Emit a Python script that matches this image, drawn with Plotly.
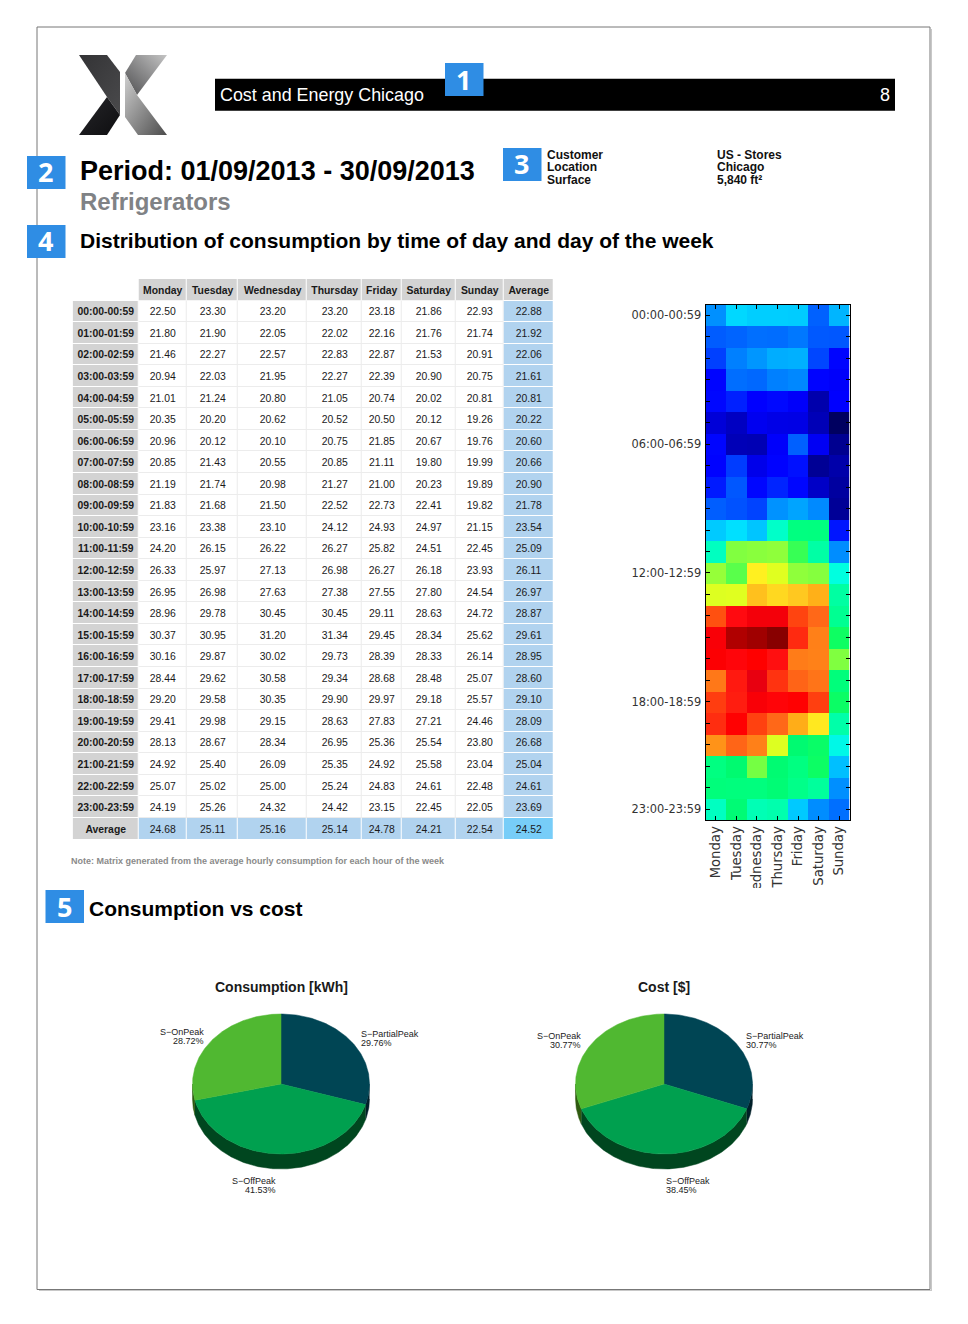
import base64
import numpy as np
import plotly.graph_objects as go

W, H = 968, 1324
BODY = 8  # the page body's margin: picture coordinates are measured from the window's corner

days = ["Monday", "Tuesday", "Wednesday", "Thursday", "Friday", "Saturday", "Sunday"]
hours = ["%02d:00-%02d:59" % (h, h) for h in range(24)]
monday = [22.50,21.80,21.46,20.94,21.01,20.35,20.96,20.85,21.19,21.83,23.16,24.20,26.33,26.95,28.96,30.37,30.16,28.44,29.20,29.41,28.13,24.92,25.07,24.19]
tuesday = [23.30,21.90,22.27,22.03,21.24,20.20,20.12,21.43,21.74,21.68,23.38,26.15,25.97,26.98,29.78,30.95,29.87,29.62,29.58,29.98,28.67,25.40,25.02,25.26]
wednesday = [23.20,22.05,22.57,21.95,20.80,20.62,20.10,20.55,20.98,21.50,23.10,26.22,27.13,27.63,30.45,31.20,30.02,30.58,30.35,29.15,28.34,26.09,25.00,24.32]
thursday = [23.20,22.02,22.83,22.27,21.05,20.52,20.75,20.85,21.27,22.52,24.12,26.27,26.98,27.38,30.45,31.34,29.73,29.34,29.90,28.63,26.95,25.35,25.24,24.42]
friday = [23.18,22.16,22.87,22.39,20.74,20.50,21.85,21.11,21.00,22.73,24.93,25.82,26.27,27.55,29.11,29.45,28.39,28.68,29.97,27.83,25.36,24.92,24.83,23.15]
saturday = [21.86,21.76,21.53,20.90,20.02,20.12,20.67,19.80,20.23,22.41,24.97,24.51,26.18,27.80,28.63,28.34,28.33,28.48,29.18,27.21,25.54,25.58,24.61,22.45]
sunday = [22.93,21.74,20.91,20.75,20.81,19.26,19.76,19.99,19.89,19.82,21.15,22.45,23.93,24.54,24.72,25.62,26.14,25.07,25.57,24.46,23.80,23.04,22.48,22.05]
row_average = [22.88,21.92,22.06,21.61,20.81,20.22,20.60,20.66,20.90,21.78,23.54,25.09,26.11,26.97,28.87,29.61,28.95,28.60,29.10,28.09,26.68,25.04,24.61,23.69]
column_average = [24.68,25.11,25.16,25.14,24.78,24.21,22.54,24.52]
heat_labels = {0: "00:00-00:59", 6: "06:00-06:59", 12: "12:00-12:59", 18: "18:00-18:59", 23: "23:00-23:59"}

pie_labels = ["S\u2212PartialPeak", "S\u2212OffPeak", "S\u2212OnPeak"]
consumption = [29.76, 41.53, 28.72]
cost = [30.77, 38.45, 30.77]

# colours of the heat matrix at given consumption levels
heat_levels = [19.26,19.76,19.89,20.10,20.35,20.62,20.80,21.05,21.24,21.46,21.85,22.27,22.50,22.87,23.18,23.38,23.93,24.20,24.93,25.40,25.65,26.14,26.98,27.13,27.55,27.80,28.34,28.63,28.96,29.45,29.80,30.00,30.40,30.58,30.95,31.20,31.34]
heat_colors = ["#000060","#000090","#0000a0","#0000b4","#0000d8","#0000f0","#0000ff","#0008ff","#0020ff","#0040ff","#0060ff","#0080ff","#0090ff","#00b0ff","#00ccff","#00e0ff","#00ffe0","#00ffc0","#00ff80","#00fa70","#10ff60","#80ff40","#e0ff20","#fff020","#ffc820","#ffb018","#ff8018","#ff6818","#ff5010","#ff2a10","#ff0810","#ff0000","#f80008","#e80010","#b00000","#a00000","#880000"]

BLUE = "#2f8de4"
PIE_TOP = ["#004554", "#00a04f", "#50b831"]
PIE_SIDE = ["#001f28", "#00461f", "#2f5a10"]

def px(x): return (x - BODY) / (W - 2 * BODY)
def py(y): return 1 - (y - BODY) / (H - 2 * BODY)

shapes, annotations = [], []

def rect(x0, y0, x1, y1, fill=None, line=None, lw=0, layer="below"):
    shapes.append(dict(type="rect", xref="paper", yref="paper", x0=px(x0), x1=px(x1), y0=py(y0), y1=py(y1),
                       fillcolor=fill, line=dict(color=line, width=lw), layer=layer))

def text(x, y, s, size, color="#000000", bold=False, anchor="left", family="Liberation Sans"):
    nudge = {"left": -1, "right": 1}.get(anchor, 0)
    annotations.append(dict(xref="paper", yref="paper", x=px(x + nudge), y=py(y), text=("<b>%s</b>" % s) if bold else s,
                            showarrow=False, xanchor=anchor, yanchor="middle", align=anchor,
                            font=dict(size=size, color=color, family=family), borderpad=0))

# page frame
rect(931, 29, 932, 1291, fill="#c8c8c8")
rect(39, 1290, 932, 1291, fill="#c8c8c8")
rect(37, 27, 930, 1289.5, fill="#ffffff", line="#777777", lw=1)

# header
rect(215, 78.7, 895, 110.7, fill="#000000")
text(220, 95.5, "Cost and Energy Chicago", 17.9, "#ffffff")
text(890, 95, "8", 18, "#ffffff", anchor="right")

# numbered badges
for n, x0, y0 in [(1, 445, 63), (2, 27, 156), (3, 503, 148), (4, 27, 225), (5, 45.5, 890)]:
    rect(x0, y0, x0 + 38.5, y0 + 33, fill=BLUE, layer="above")
    annotations.append(dict(xref="paper", yref="paper", x=px(x0 + 18.5), y=py(y0 + 16), text="<b>%d</b>" % n,
                            showarrow=False, xanchor="center", yanchor="middle",
                            font=dict(size=27, color="#ffffff", family="Open Sans")))

text(80, 171, "Period: 01/09/2013 - 30/09/2013", 27, bold=True)
text(80, 202, "Refrigerators", 24, "#808285", bold=True)
text(80, 241, "Distribution of consumption by time of day and day of the week", 21, bold=True)
for label, value, y in [("Customer", "US - Stores", 155), ("Location", "Chicago", 167.5), ("Surface", "5,840 ft\u00b2", 180)]:
    text(547, y, label, 12, "#111111", bold=True)
    text(717, y, value, 12, "#111111", bold=True)
text(71, 861, "Note: Matrix generated from the average hourly consumption for each hour of the week", 9, "#8a8a8a", bold=True)
text(89, 908, "Consumption vs cost", 21, bold=True)

# logo drawn as a small gradient image
svg = """<svg xmlns='http://www.w3.org/2000/svg' width='90' height='82' viewBox='0 0 90 82'>
<defs>
<linearGradient id='a' x1='0' y1='0' x2='1' y2='1'><stop offset='0' stop-color='#333335'/><stop offset='1' stop-color='#4a4a4c'/></linearGradient>
<linearGradient id='b' x1='0' y1='0' x2='1' y2='1'><stop offset='0' stop-color='#26262a'/><stop offset='1' stop-color='#0e0e10'/></linearGradient>
<linearGradient id='c' x1='1' y1='0' x2='0' y2='1'><stop offset='0' stop-color='#c4c4c4'/><stop offset='1' stop-color='#4e4e50'/></linearGradient>
<linearGradient id='d' x1='0' y1='0' x2='1' y2='1'><stop offset='0' stop-color='#d0d0d0'/><stop offset='1' stop-color='#4c4c4c'/></linearGradient>
</defs>
<polygon points='1,0 29,0 42,17 42,60 29,42' fill='url(#a)'/>
<polygon points='29,42 42,60 29,80 1,80' fill='url(#b)'/>
<polygon points='58,0 89,0 59,40 47,18' fill='url(#c)'/>
<polygon points='47,18 59,40 89,80 60,80 47,62' fill='url(#d)'/>
</svg>"""
logo = "data:image/svg+xml;base64," + base64.b64encode(svg.encode()).decode()
images = [dict(source=logo, xref="paper", yref="paper", x=px(78), y=py(55), sizex=90 / (W - 2 * BODY), sizey=82 / (H - 2 * BODY),
               xanchor="left", yanchor="top", sizing="stretch", layer="above")]

fig = go.Figure()

# table, drawn as a cell matrix so its row height can follow the reference
col_edges = [72.7, 138.7, 187, 238, 306.7, 362, 402, 456, 503.5, 553.7]
TABLE_TOP, TABLE_BOTTOM = 279, 839.5
row_h = (TABLE_BOTTOM - TABLE_TOP) / 26
rect(col_edges[1], TABLE_TOP + row_h, col_edges[8], TABLE_BOTTOM - row_h, fill="#ececec")
series = [monday, tuesday, wednesday, thursday, friday, saturday, sunday]
fmt = lambda seq: ["%.2f" % v for v in seq]
col_texts = [fmt(s) + fmt([column_average[i]]) for i, s in enumerate(series)] + [fmt(row_average) + fmt([column_average[7]])]
table_text = [[""] + ["<b>%s</b>" % d for d in days] + ["<b>Average</b>"]]
role = [[0] + [1] * 8]
for r in range(25):
    head = "<b>%s</b>" % (hours[r] if r < 24 else "Average")
    table_text.append([head] + [c[r] for c in col_texts])
    if r < 24:
        role.append([1] + [2] * 7 + [3])
    else:
        role.append([1] + [3] * 7 + [4])
role_fill = ["#ffffff", "#d3d3d3", "#ffffff", "#b1d3ef", "#77cdf8"]
role_scale = []
for i, c in enumerate(role_fill):
    role_scale += [[i / 5, c], [(i + 1) / 5, c]]
fig.add_trace(go.Heatmap(z=role, x=col_edges, y=list(range(26)), text=table_text, texttemplate="%{text}",
                         textfont=dict(size=10.4, color="#1a1a1a", family="Liberation Sans"),
                         xaxis="x4", yaxis="y4", zmin=0, zmax=5, colorscale=role_scale, showscale=False,
                         xgap=1, ygap=1, hoverinfo="skip"))

# heat matrix
z = np.array(series).T
lo, hi = heat_levels[0], heat_levels[-1]
fig.add_trace(go.Heatmap(z=z, x=days, y=hours, xaxis="x", yaxis="y", zmin=lo, zmax=hi,
                         colorscale=[[(v - lo) / (hi - lo), c] for v, c in zip(heat_levels, heat_colors)],
                         showscale=False, hoverinfo="skip"))
rect(747, 888, 767, 912, fill="#ffffff", layer="above")

# pies with a tilted, extruded look
DEPTH = 15 / 70
def arc(t0, t1):
    t = np.linspace(t0, t1, max(int(abs(t1 - t0) * 60), 2))
    return np.sin(t), np.cos(t)

def draw_pie(values, xa, ya):
    edges = np.cumsum([0] + values) / sum(values) * 2 * np.pi
    for i in range(len(values)):
        lo_, hi_ = max(edges[i], np.pi / 2), min(edges[i + 1], 3 * np.pi / 2)
        if hi_ > lo_:
            xs, ys = arc(lo_, hi_)
            fig.add_trace(go.Scatter(x=np.r_[xs, xs[::-1]], y=np.r_[ys, ys[::-1] - DEPTH], xaxis=xa, yaxis=ya,
                                     mode="lines", fill="toself", fillcolor=PIE_SIDE[i], line=dict(width=0.5, color=PIE_SIDE[i]),
                                     hoverinfo="skip", showlegend=False))
    for i in range(len(values)):
        xs, ys = arc(edges[i], edges[i + 1])
        fig.add_trace(go.Scatter(x=np.r_[0, xs, 0], y=np.r_[0, ys, 0], xaxis=xa, yaxis=ya, mode="lines", fill="toself",
                                 fillcolor=PIE_TOP[i], line=dict(width=0.5, color=PIE_TOP[i]),
                                 hoverinfo="skip", showlegend=False))

draw_pie(consumption, "x2", "y2")
draw_pie(cost, "x3", "y3")

hidden = dict(visible=False, fixedrange=True)
A, B, CY = 88.5, 70, 1084
def pie_axes(cx):
    return (dict(hidden, range=[-1.2, 1.2], domain=[px(cx - 1.2 * A), px(cx + 1.2 * A)]),
            dict(hidden, range=[-1.4, 1.4], domain=[py(CY + 1.4 * B), py(CY - 1.4 * B)]))
x2, y2 = pie_axes(281)
x3, y3 = pie_axes(664)
x2.update(anchor="y2"); y2.update(anchor="x2")
x3.update(anchor="y3"); y3.update(anchor="x3")

text(281, 987, "Consumption [kWh]", 14, "#1a1a1a", bold=True, anchor="center")
text(664, 987, "Cost [$]", 14, "#1a1a1a", bold=True, anchor="center")

def pie_label(x, y, values, i, anchor):
    text(x, y, pie_labels[i], 9, "#222222", anchor=anchor)
    text(x, y + 9, "%.2f%%" % values[i], 9, "#222222", anchor=anchor)

pie_label(361, 1033.5, consumption, 0, "left")
pie_label(276, 1180.5, consumption, 1, "right")
pie_label(204, 1032, consumption, 2, "right")
pie_label(746, 1036, cost, 0, "left")
pie_label(666, 1180.5, cost, 1, "left")
pie_label(581, 1036, cost, 2, "right")

fig.update_layout(
    width=W - 2 * BODY, height=H - 2 * BODY, margin=dict(l=0, r=0, t=0, b=0), paper_bgcolor="#ffffff", plot_bgcolor="rgba(0,0,0,0)",
    showlegend=False, shapes=shapes, annotations=annotations, images=images,
    xaxis=dict(domain=[px(705.5), px(849.5)], anchor="y", range=[-0.5, 6.5], tickmode="array", tickvals=days, ticktext=days,
               type="category", tickangle=-90, ticks="inside", ticklen=4, tickwidth=1, tickcolor="#000000", mirror="allticks",
               showline=True, linecolor="#000000", linewidth=1, showgrid=False, zeroline=False,
               tickfont=dict(size=13.2, color="#333333", family="DejaVu Sans"), fixedrange=True),
    yaxis=dict(domain=[py(820), py(304.5)], anchor="x", range=[23.5, -0.5], tickmode="array", tickvals=hours,
               ticktext=[heat_labels.get(i, "") for i in range(24)], type="category", ticks="inside", ticklen=4, tickwidth=1,
               tickcolor="#000000", mirror="allticks", showline=True, linecolor="#000000", linewidth=1, showgrid=False,
               zeroline=False, tickfont=dict(size=11.4, color="#333333", family="DejaVu Sans"), fixedrange=True, ticklabelstandoff=1),
    xaxis2=x2, yaxis2=y2, xaxis3=x3, yaxis3=y3,
    xaxis4=dict(hidden, range=[col_edges[0], col_edges[-1]], domain=[px(col_edges[0]), px(col_edges[-1])], anchor="y4"),
    yaxis4=dict(hidden, range=[25.5, -0.5], domain=[py(TABLE_BOTTOM), py(TABLE_TOP)], anchor="x4"),
)
fig.write_html("out.html")
